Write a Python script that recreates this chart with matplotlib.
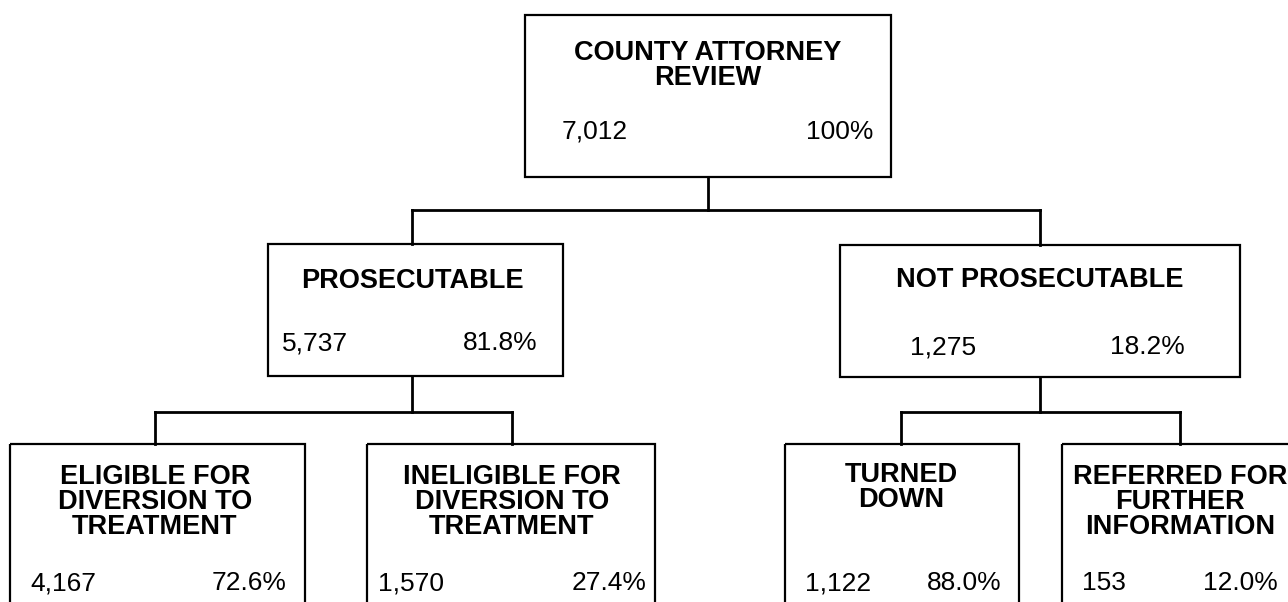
import matplotlib
matplotlib.use("Agg")
import matplotlib.pyplot as plt
from matplotlib.patches import Rectangle

plt.rcParams['font.family'] = ['Liberation Sans', 'DejaVu Sans']

# ---- data ----
titles = [
    "COUNTY ATTORNEY\nREVIEW",
    "PROSECUTABLE",
    "NOT PROSECUTABLE",
    "ELIGIBLE FOR\nDIVERSION TO\nTREATMENT",
    "INELIGIBLE FOR\nDIVERSION TO\nTREATMENT",
    "TURNED\nDOWN",
    "REFERRED FOR\nFURTHER\nINFORMATION",
]
counts = [7012, 5737, 1275, 4167, 1570, 1122, 153]
percents = ["100%", "81.8%", "18.2%", "72.6%", "27.4%", "88.0%", "12.0%"]
parents = [None, 0, 0, 1, 1, 2, 2]

# ---- layout (pixel space of the 1288x602 canvas) ----
# box: (left, right, top, bottom); stem x (connector x); title first-line y; number y; number left/right
box = [
    (525, 891, 15, 177),
    (268, 563, 244, 376),
    (840, 1240, 245, 377),
    (10, 305, 444, 640),
    (367, 655, 444, 640),
    (785, 1019, 444, 640),
    (1062, 1298, 444, 640),
]
stem = [708, 412, 1040, 155, 512, 901, 1180]
title_y = [53, 281, 280, 477, 477, 475, 477]
num_y = [132, 343, 347, 583, 583, 583, 583]
num_left = [562, 282, 910, 30, 378, 805, 1082]
num_right = [873, 538, 1185, 287, 647, 1002, 1278]
bus_y = {0: 210, 1: 412, 2: 412}
line_step = 25

fig = plt.figure(figsize=(12.88, 6.02), dpi=100)
ax = fig.add_axes([0, 0, 1, 1])
ax.set_xlim(0, 1288)
ax.set_ylim(602, 0)
ax.axis('off')

lw_box = 1.6
lw_con = 2.0

for i in range(len(titles)):
    l, r, t, b = box[i]
    ax.add_patch(Rectangle((l, t), r - l, b - t, fill=False, edgecolor='black',
                           linewidth=lw_box, zorder=2))
    for k, line in enumerate(titles[i].split("\n")):
        ax.text(stem[i], title_y[i] + k * line_step, line, ha='center', va='center',
                fontsize=19.5, fontweight='bold', color='black')
    ax.text(num_left[i], num_y[i], f"{counts[i]:,}", ha='left', va='center',
            fontsize=19, color='black')
    ax.text(num_right[i], num_y[i], percents[i], ha='right', va='center',
            fontsize=19, color='black')

# connectors
for p in sorted(set(x for x in parents if x is not None)):
    kids = [i for i, q in enumerate(parents) if q == p]
    by = bus_y[p]
    ax.plot([stem[p], stem[p]], [box[p][3], by], color='black', lw=lw_con,
            solid_capstyle='projecting')
    xs = [stem[k] for k in kids]
    ax.plot([min(xs), max(xs)], [by, by], color='black', lw=lw_con,
            solid_capstyle='projecting')
    for k in kids:
        ax.plot([stem[k], stem[k]], [by, box[k][2]], color='black', lw=lw_con,
                solid_capstyle='projecting')

fig.savefig("out.png", dpi=100, facecolor='white')
